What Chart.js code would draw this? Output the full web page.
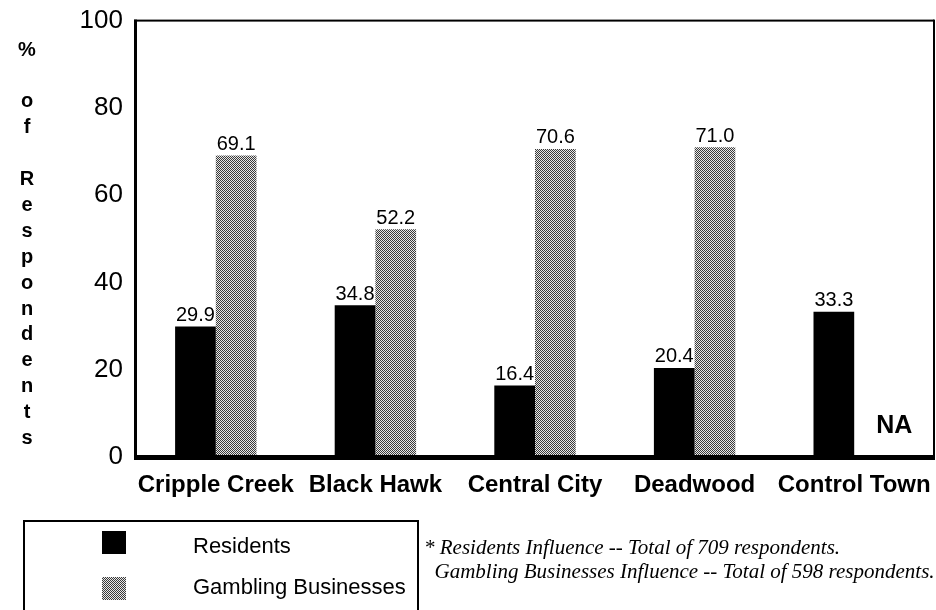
<!DOCTYPE html>
<html>
<head>
<meta charset="utf-8">
<script src="https://cdn.jsdelivr.net/npm/chart.js@4.4.0/dist/chart.umd.min.js"></script>
<style>
  body { margin: 0; background: #fff; }
  canvas { display: block; }
</style>
</head>
<body>
<canvas id="chart" width="936" height="610"></canvas>
<script>
const towns = ['Cripple Creek', 'Black Hawk', 'Central City', 'Deadwood', 'Control Town'];
const residents = [29.9, 34.8, 16.4, 20.4, 33.3];
const gambling = [69.1, 52.2, 70.6, 71.0, null];
const yTicks = [0, 20, 40, 60, 80, 100];
const axisTitle = ['%', '', 'o', 'f', '', 'R', 'e', 's', 'p', 'o', 'n', 'd', 'e', 'n', 't', 's'];
const footnotes = [
  '* Residents Influence -- Total of 709 respondents.',
  '  Gambling Businesses Influence -- Total of 598 respondents.'
];

// dotted grey fill like the old printer screen
function makePattern() {
  const c = document.createElement('canvas');
  c.width = 2; c.height = 2;
  const g = c.getContext('2d');
  g.fillStyle = '#e8e8e8';
  g.fillRect(0, 0, 2, 2);
  g.fillStyle = '#3a3a3a';
  g.fillRect(0, 0, 1, 1);
  g.fillRect(1, 1, 1, 1);
  return g.createPattern(c, 'repeat');
}
const dots = makePattern();

const frame = {
  id: 'frame',
  afterDraw(chart) {
    const { ctx, chartArea: a } = chart;
    ctx.save();
    ctx.fillStyle = '#000';
    ctx.fillRect(a.left - 2, a.top - 1, a.right - a.left + 2, 2);   // top
    ctx.fillRect(a.left - 2, a.top - 1, 3, a.bottom - a.top + 2);   // left
    ctx.fillRect(a.right - 1, a.top - 1, 2, a.bottom - a.top + 2);  // right
    ctx.fillRect(a.left - 2, a.bottom - 2, a.right - a.left + 3, 5); // bottom
    ctx.restore();
  }
};

const valueLabels = {
  id: 'valueLabels',
  afterDatasetsDraw(chart) {
    const { ctx } = chart;
    ctx.save();
    ctx.fillStyle = '#000';
    ctx.textAlign = 'center';
    ctx.textBaseline = 'bottom';
    chart.data.datasets.forEach((ds, i) => {
      const meta = chart.getDatasetMeta(i);
      meta.data.forEach((bar, j) => {
        const v = ds.data[j];
        if (v === null) {
          const x = chart.scales.x.getPixelForValue(j) + 40;
          ctx.font = 'bold 25px "Liberation Sans", Arial, sans-serif';
          ctx.fillText('NA', x, chart.chartArea.bottom - 18);
          return;
        }
        ctx.font = '20px "Liberation Sans", Arial, sans-serif';
        ctx.fillText(v.toFixed(1), bar.x, bar.y - 1);
      });
    });
    ctx.restore();
  }
};

const extras = {
  id: 'extras',
  afterDraw(chart) {
    const { ctx } = chart;
    ctx.save();
    ctx.fillStyle = '#000';
    // stacked axis title
    ctx.textAlign = 'center';
    ctx.textBaseline = 'middle';
    ctx.font = 'bold 20px "Liberation Sans", Arial, sans-serif';
    axisTitle.forEach((ch, i) => {
      if (ch) ctx.fillText(ch, 27, 50 + i * 25.9);
    });

    // legend box
    ctx.lineWidth = 2;
    ctx.strokeStyle = '#000';
    ctx.beginPath();
    ctx.moveTo(24, 612);
    ctx.lineTo(24, 521);
    ctx.lineTo(418, 521);
    ctx.lineTo(418, 612);
    ctx.stroke();
    ctx.textAlign = 'left';
    ctx.font = '22px "Liberation Sans", Arial, sans-serif';
    chart.data.datasets.forEach((ds, i) => {
      const y = 531 + i * 46;
      ctx.fillStyle = ds.backgroundColor;
      ctx.fillRect(102, y, 24, 23);
      ctx.fillStyle = '#000';
      ctx.fillText(ds.label, 193, 547 + i * 41);
    });

    // footnote
    ctx.font = 'italic 21px "Liberation Serif", "Times New Roman", serif';
    ctx.textBaseline = 'alphabetic';
    footnotes.forEach((t, i) => ctx.fillText(t, 424, 554 + i * 24));
    ctx.restore();
  }
};

new Chart(document.getElementById('chart'), {
  type: 'bar',
  data: {
    labels: towns,
    datasets: [
      { label: 'Residents', data: residents, backgroundColor: '#000' },
      { label: 'Gambling Businesses', data: gambling, backgroundColor: dots }
    ]
  },
  options: {
    responsive: false,
    animation: false,
    layout: { padding: { top: 10, right: 2, left: 0, bottom: 103 } },
    datasets: { bar: { barPercentage: 1, categoryPercentage: 0.51 } },
    plugins: { legend: { display: false }, tooltip: { enabled: false } },
    scales: {
      x: {
        grid: { display: false },
        border: { display: false },
        afterFit(s) { s.height = 50; s.paddingLeft = 0; s.paddingRight = 0; },
        ticks: {
          color: '#000',
          padding: 6,
          maxRotation: 0,
          autoSkip: false,
          font: { family: '"Liberation Sans", Arial, sans-serif', size: 24, weight: 'bold' }
        }
      },
      y: {
        min: 0, max: 100,
        grid: { display: false },
        border: { display: false },
        afterFit(s) { s.width = 136; },
        afterBuildTicks(s) { s.ticks = yTicks.map(v => ({ value: v })); },
        ticks: {
          color: '#000',
          padding: 5,
          font: { family: '"Liberation Sans", Arial, sans-serif', size: 26 }
        }
      }
    }
  },
  plugins: [frame, valueLabels, extras]
});
</script>
</body>
</html>
